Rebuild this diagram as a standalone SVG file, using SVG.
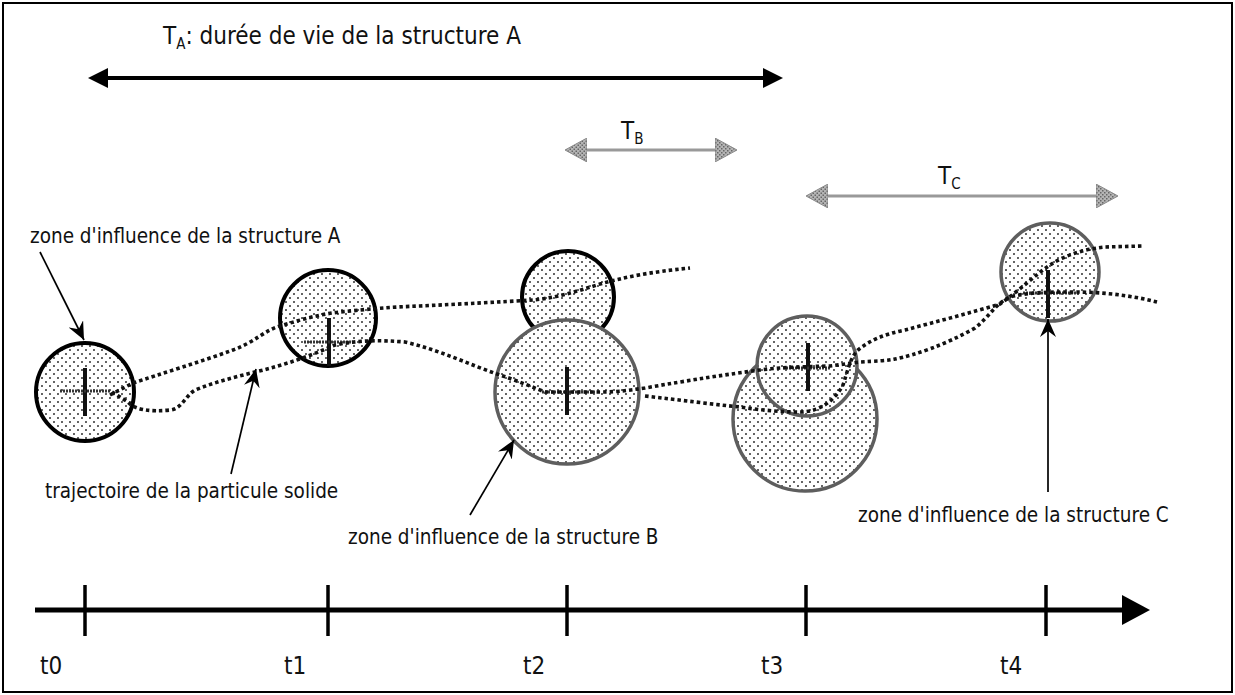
<svg xmlns="http://www.w3.org/2000/svg" width="1235" height="695" viewBox="0 0 1235 695">
<defs>
<style>
text{font-family:"DejaVu Sans Condensed","DejaVu Sans","Liberation Sans",sans-serif;fill:#111}
.lbl{font-size:20.5px}
.big{font-size:24px}
.tick{font-size:24px}
.blk{stroke:#000;stroke-width:4;fill:url(#dots)}
.gry{stroke:#5e5e5e;stroke-width:3.5;fill:url(#dots)}
.traj{fill:none;stroke:#111;stroke-width:3.6;stroke-dasharray:3.5 3}
.vbar{stroke:#111;stroke-width:4}
.hbar{stroke:#333;stroke-width:3;stroke-dasharray:2 1}
.ptr{stroke:#000;stroke-width:1.7;fill:none;marker-end:url(#barb)}
.garrow{stroke:#999;stroke-width:3;marker-start:url(#triG);marker-end:url(#triG)}
</style>
<pattern id="dots" width="8" height="8" patternUnits="userSpaceOnUse">
<rect width="8" height="8" fill="#fff"/>
<circle cx="2" cy="2" r="0.95" fill="#222"/>
<circle cx="6" cy="6" r="0.95" fill="#222"/>
</pattern>
<pattern id="gdots" width="4" height="4" patternUnits="userSpaceOnUse">
<rect width="4" height="4" fill="#b4b4b4"/>
<rect x="0" y="0" width="1.5" height="1.5" fill="#666"/>
<rect x="2" y="2" width="1.5" height="1.5" fill="#666"/>
</pattern>
<marker id="tri" viewBox="0 0 20 20" refX="0" refY="10" markerWidth="20" markerHeight="20" markerUnits="userSpaceOnUse" orient="auto-start-reverse">
<path d="M0,0 L20,10 L0,20 z" fill="#000"/>
</marker>
<marker id="triG" viewBox="0 0 22 24" refX="0" refY="12" markerWidth="22" markerHeight="24" markerUnits="userSpaceOnUse" orient="auto-start-reverse">
<path d="M0,0 L22,12 L0,24 z" fill="url(#gdots)" stroke="#8a8a8a" stroke-width="1"/>
</marker>
<marker id="axisHead" viewBox="0 0 28 30" refX="0" refY="15" markerWidth="28" markerHeight="30" markerUnits="userSpaceOnUse" orient="auto">
<path d="M0,0 L28,15 L0,30 z" fill="#000"/>
</marker>
<marker id="barb" viewBox="0 0 18 16" refX="18" refY="8" markerWidth="18" markerHeight="16" markerUnits="userSpaceOnUse" orient="auto">
<path d="M0,0 L18,8 L0,16 L6,8 z" fill="#000"/>
</marker>
</defs>

<rect x="3" y="3" width="1229" height="689" fill="#fff" stroke="#000" stroke-width="2"/>

<g id="durations">
<text class="big" x="163" y="44">T<tspan font-size="15" dy="5">A</tspan><tspan dy="-5">: durée de vie de la structure A</tspan></text>
<line x1="108" y1="78" x2="763" y2="78" stroke="#000" stroke-width="4" marker-start="url(#tri)" marker-end="url(#tri)"/>
<text class="big" x="621" y="139">T<tspan font-size="15" dy="5">B</tspan></text>
<line class="garrow" x1="587" y1="150" x2="715" y2="150"/>
<text class="big" x="938" y="184">T<tspan font-size="15" dy="5">C</tspan></text>
<line class="garrow" x1="828" y1="196" x2="1096" y2="196"/>
</g>

<g id="zone-t0">
<circle class="blk" cx="85" cy="392" r="49"/>
<line class="vbar" x1="85" y1="368" x2="85" y2="416"/>
<line class="hbar" x1="60" y1="391" x2="110" y2="391"/>
</g>
<g id="zone-t1">
<circle class="blk" cx="328" cy="318" r="48"/>
<line class="vbar" x1="329" y1="318" x2="329" y2="366"/>
<line class="hbar" x1="304" y1="342" x2="353" y2="342"/>
</g>
<g id="zone-t2-A">
<circle class="blk" cx="568" cy="297" r="46"/>
</g>
<g id="zone-t2-B">
<circle class="gry" cx="567" cy="392" r="72"/>
<line class="vbar" x1="567" y1="367" x2="567" y2="415"/>
<line class="hbar" x1="542" y1="392" x2="595" y2="392"/>
</g>
<g id="zone-t3-big">
<circle class="gry" cx="805" cy="419" r="72"/>
</g>
<g id="zone-t3-small">
<circle class="gry" cx="807" cy="366" r="50"/>
<line class="vbar" x1="808" y1="343" x2="808" y2="391"/>
<line class="hbar" x1="783" y1="368" x2="830" y2="368"/>
</g>
<g id="zone-t4">
<circle class="gry" cx="1050" cy="272" r="49"/>
<line class="vbar" x1="1048" y1="270" x2="1048" y2="318"/>
<line class="hbar" x1="1023" y1="293" x2="1080" y2="293"/>
</g>

<g id="trajectories">
<path class="traj" d="M110,395 L133,383 C160,374 200,362 233,350 C255,342 265,330 280,326 C300,320 320,314 340,312 C370,309 390,307 420,306 C460,304 500,302 533,300 C555,298 575,292 600,284 C625,277 650,272 690,268"/>
<path class="traj" d="M112,392 L128,402 C135,410 150,412 170,410 C182,409 185,396 195,390 C215,382 235,377 255,372 C285,365 310,356 335,345 C360,340 380,340 405,342 C440,350 470,365 500,375 C515,380 530,386 545,392 L600,392 C620,392 630,390 645,388 C690,380 730,374 760,370 C775,368 790,367 830,366 L860,362 C875,361 885,361 895,359 C915,355 945,345 975,328 C990,316 995,304 1010,297 C1030,292 1050,292 1075,292 C1100,292 1130,295 1157,302"/>
<path class="traj" d="M645,396 C680,400 710,404 740,407 C760,410 780,412 800,412 C820,412 835,400 843,385 C848,370 850,358 858,350 C870,340 885,334 905,330 C935,322 970,313 1000,304 C1020,290 1035,275 1050,265 C1065,255 1085,249 1105,247 L1143,246"/>
</g>

<g id="connectors">
<line class="ptr" x1="40" y1="252" x2="84" y2="340"/>
<line class="ptr" x1="231" y1="474" x2="256" y2="369"/>
<line class="ptr" x1="470" y1="515" x2="514" y2="440"/>
<line class="ptr" x1="1048" y1="492" x2="1048" y2="319"/>
</g>

<g id="labels">
<text class="lbl" x="30" y="243">zone d'influence de la structure A</text>
<text class="lbl" x="45" y="498">trajectoire de la particule solide</text>
<text class="lbl" x="348" y="544">zone d'influence de la structure B</text>
<text class="lbl" x="858" y="522">zone d'influence de la structure C</text>
</g>

<g id="time-axis">
<line x1="35" y1="610" x2="1122" y2="610" stroke="#000" stroke-width="5" marker-end="url(#axisHead)"/>
<g stroke="#000" stroke-width="3.5">
<line x1="85" y1="585" x2="85" y2="636"/>
<line x1="328" y1="585" x2="328" y2="636"/>
<line x1="567" y1="585" x2="567" y2="636"/>
<line x1="806" y1="585" x2="806" y2="636"/>
<line x1="1046" y1="585" x2="1046" y2="636"/>
</g>
<text class="tick" x="40" y="674">t0</text>
<text class="tick" x="284" y="674">t1</text>
<text class="tick" x="523" y="674">t2</text>
<text class="tick" x="761" y="674">t3</text>
<text class="tick" x="1000" y="674">t4</text>
</g>
</svg>
